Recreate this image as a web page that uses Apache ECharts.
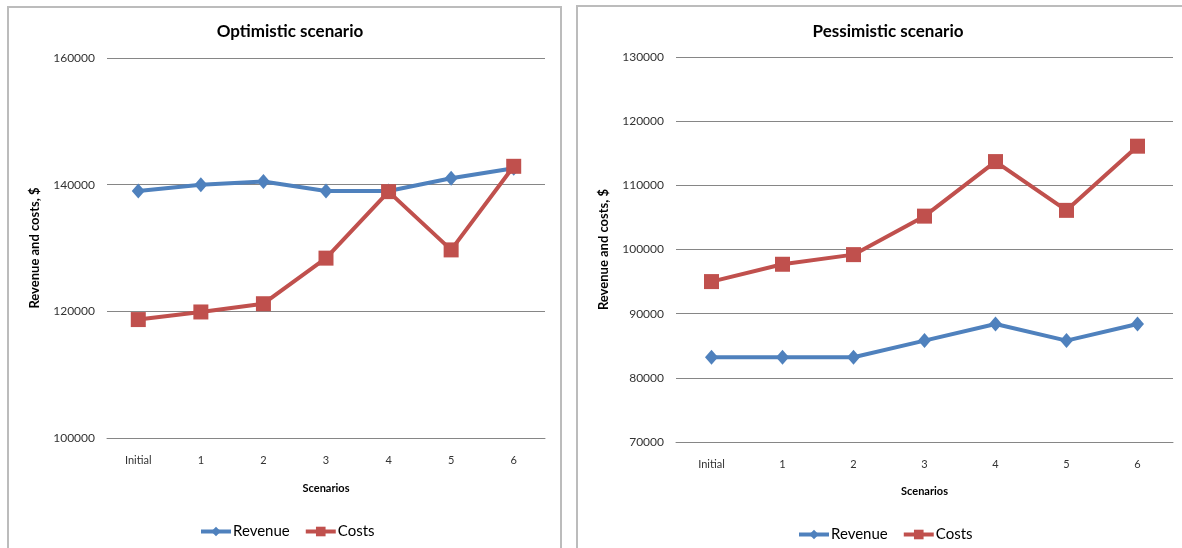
<!DOCTYPE html>
<html>
<head>
<meta charset="utf-8">
<script src="https://cdn.jsdelivr.net/npm/echarts@6/dist/echarts.min.js"></script>
<style>
  html, body { margin:0; padding:0; background:#fff; width:1182px; height:548px; overflow:hidden; }
  .chart { position:absolute; }
  .frame { position:absolute; border:2px solid #bcbcbc; box-sizing:border-box; pointer-events:none; }
</style>
</head>
<body>
<div id="c1" class="chart" style="left:0;top:0;width:570px;height:548px;"></div>
<div id="c2" class="chart" style="left:570px;top:0;width:612px;height:548px;"></div>
<div class="frame" style="left:7px;top:6px;width:555px;height:560px;"></div>
<div class="frame" style="left:576px;top:5px;width:620px;height:560px;"></div>
<script>
const categories = ['Initial', '1', '2', '3', '4', '5', '6'];
const seriesNames = ['Revenue', 'Costs'];

const optimisticRevenue = [139000, 140000, 140500, 139000, 139000, 141000, 142600];
const optimisticCosts   = [118700, 119900, 121200, 128400, 138900, 129700, 142900];

const pessimisticRevenue = [83200, 83200, 83200, 85800, 88400, 85800, 88400];
const pessimisticCosts   = [95000, 97700, 99200, 105200, 113700, 106100, 116100];

const optimisticTitle = 'Optimistic scenario';
const pessimisticTitle = 'Pessimistic scenario';
const xAxisTitle = 'Scenarios';
const yAxisTitle = 'Revenue and costs, $';

const optimisticAxis = { min: 100000, max: 160000, interval: 20000 };
const pessimisticAxis = { min: 70000, max: 130000, interval: 10000 };

const FONT = 'Lato, "Open Sans", "DejaVu Sans", sans-serif';
const BLUE = '#4F81BD';
const RED = '#C0504D';

function build(title, titleX, grid, axis, revenue, costs, legendX, legendTop, xNameGap) {
  return {
    animation: false,
    textStyle: { fontFamily: FONT },
    title: {
      text: title, left: titleX, top: 18, textAlign: 'center',
      textStyle: { fontFamily: FONT, fontSize: 17, fontWeight: 'bold', color: '#000' }
    },
    legend: {
      data: seriesNames, left: legendX, top: legendTop,
      itemWidth: 30, itemHeight: 12, itemGap: 14,
      lineStyle: { width: 4 },
      textStyle: { fontFamily: FONT, fontSize: 15, color: '#000', padding: [0, 0, 0, -3] }
    },
    grid: grid,
    xAxis: {
      type: 'category', data: categories, boundaryGap: true,
      name: xAxisTitle, nameLocation: 'middle', nameGap: xNameGap,
      nameTextStyle: { fontFamily: FONT, fontSize: 11, fontWeight: 'bold', color: '#000' },
      axisLine: { show: true, lineStyle: { color: '#868686', width: 1 } },
      axisTick: { show: false },
      axisLabel: { fontFamily: FONT, fontSize: 11, color: '#333', margin: 17 }
    },
    yAxis: {
      type: 'value', min: axis.min, max: axis.max, interval: axis.interval,
      name: yAxisTitle, nameLocation: 'middle', nameGap: 66, nameRotate: 90,
      nameTextStyle: { fontFamily: FONT, fontSize: 13, fontWeight: 'bold', color: '#000' },
      axisLine: { show: false },
      axisTick: { show: false },
      axisLabel: { fontFamily: FONT, fontSize: 12, color: '#333', margin: 12,
        formatter: function (v) { return String(v); } },
      splitLine: { show: true, lineStyle: { color: '#868686', width: 1 } }
    },
    series: [
      {
        name: seriesNames[0], type: 'line', data: revenue,
        symbol: 'diamond', symbolSize: [13, 15],
        lineStyle: { color: BLUE, width: 4 },
        itemStyle: { color: BLUE }
      },
      {
        name: seriesNames[1], type: 'line', data: costs,
        symbol: 'rect', symbolSize: 15,
        lineStyle: { color: RED, width: 4 },
        itemStyle: { color: RED }
      }
    ]
  };
}

const c1 = echarts.init(document.getElementById('c1'));
c1.setOption(build(optimisticTitle, 285,
  { left: 107, top: 58, width: 438, height: 380 },
  optimisticAxis, optimisticRevenue, optimisticCosts, 194, 519, 45));

const c2 = echarts.init(document.getElementById('c2'));
c2.setOption(build(pessimisticTitle, 313,
  { left: 106, top: 57, width: 497, height: 385 },
  pessimisticAxis, pessimisticRevenue, pessimisticCosts, 222, 522, 44));
</script>
</body>
</html>
